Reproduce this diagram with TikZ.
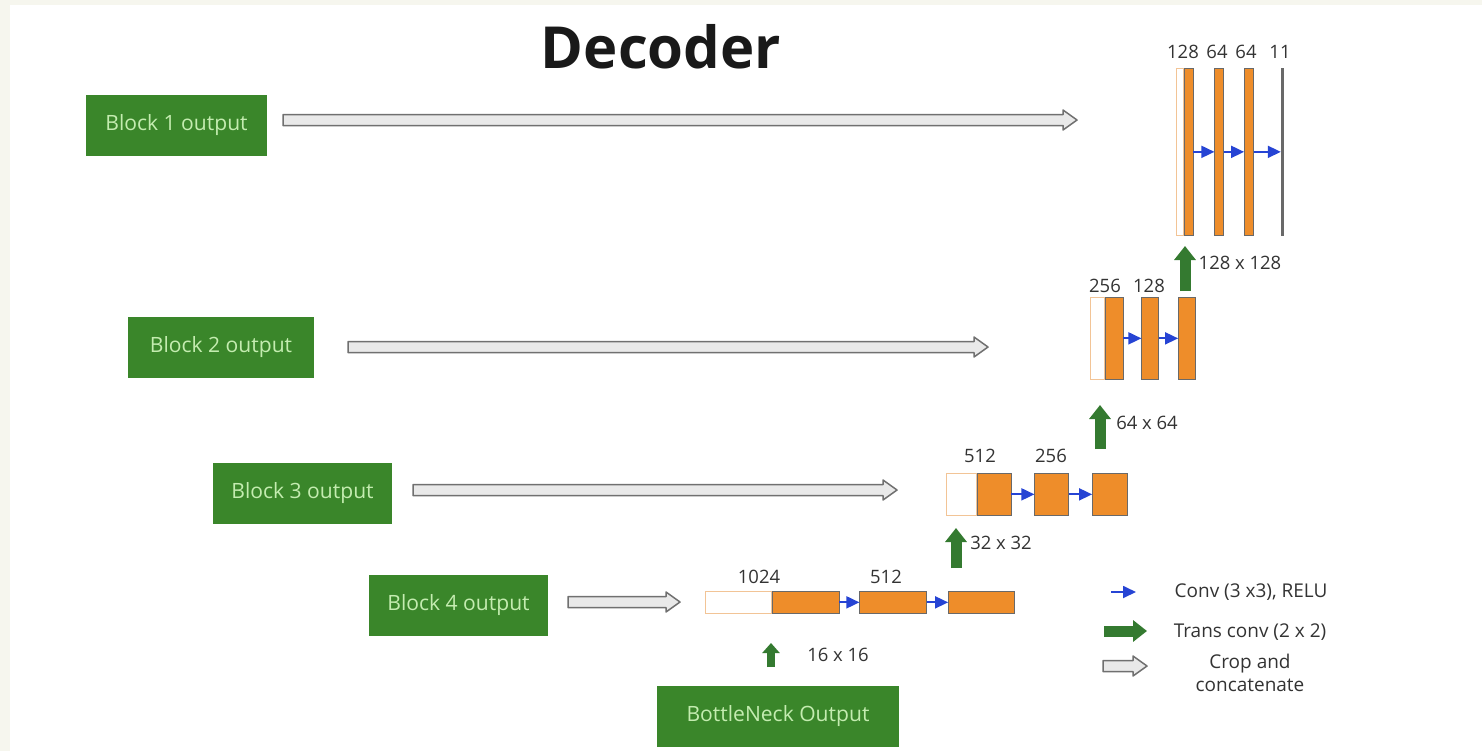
\documentclass[tikz,border=0pt]{standalone}
\usepackage{fontspec}
\setmainfont{Open Sans}
\usetikzlibrary{arrows.meta,calc,positioning}

\definecolor{boxgreen}{RGB}{58,134,42}
\definecolor{boxtext}{RGB}{196,236,176}
\definecolor{layerorange}{RGB}{238,141,42}
\definecolor{edgegray}{RGB}{105,105,105}
\definecolor{paleorange}{RGB}{242,196,150}
\definecolor{convblue}{RGB}{38,68,212}
\definecolor{transgreen}{RGB}{52,122,48}
\definecolor{cropfill}{RGB}{233,233,233}
\definecolor{cropedge}{RGB}{112,112,112}
\definecolor{cream}{RGB}{246,246,238}

\begin{document}
\begin{tikzpicture}[x=0.2mm, y=-0.2mm,
        % Shared styles
        block/.style={
            rectangle, fill=boxgreen, text=boxtext, inner sep=0pt,
            minimum height=12.2mm, font=\fontsize{12}{14}\selectfont
        },
        fmap/.style 2 args={
            rectangle, draw=edgegray, fill=layerorange, inner sep=0pt,
            minimum width=#1*0.2mm, minimum height=#2*0.2mm
        },
        skipmap/.style 2 args={
            rectangle, draw=paleorange, fill=white, inner sep=0pt,
            minimum width=#1*0.2mm, minimum height=#2*0.2mm
        },
        num/.style={inner sep=0pt, text=black!80, font=\fontsize{10.5}{12}\selectfont},
        legend/.style={inner sep=0pt, text=black!80, align=center, font=\fontsize{10.8}{13}\selectfont},
        convarr/.style={draw=convblue, line width=0.35mm, -{Triangle[length=2.6mm, width=2.4mm]}},
        transarr/.style={draw=transgreen, line width=2.2mm, -{Triangle[length=2.8mm, width=4.2mm]}},
        croparr/.style={
            draw=cropedge, fill=cropfill, line width=0.3mm, line join=round,
            to path={let \p1=(\tikztostart), \p2=(\tikztotarget) in
                (\x1,\y1+1.1mm) -- (\x2-2.8mm,\y1+1.1mm) -- (\x2-2.8mm,\y1+2mm) -- (\x2,\y1)
                -- (\x2-2.8mm,\y1-2mm) -- (\x2-2.8mm,\y1-1.1mm) -- (\x1,\y1-1.1mm) -- cycle}
        }
    ]
    % Background
    \useasboundingbox (0,0) rectangle (1482,751);
    \fill[cream] (0,0) rectangle (1482,751);
    \fill[white] (10,5) rectangle (1482,751);

    \node[font=\fontsize{33}{38}\selectfont\bfseries, text=black!90] (title) at (661,47) {Decoder};

    % Encoder outputs
    \node[block, minimum width=36.2mm] (b1) at (176.5,125.5) {Block 1 output};
    \node[block, minimum width=37.2mm] (b2) at (221,347.5) {Block 2 output};
    \node[block, minimum width=35.8mm] (b3) at (302.5,493) {Block 3 output};
    \node[block, minimum width=35.8mm] (b4) at (458.5,605.5) {Block 4 output};
    \node[block, minimum width=48.4mm] (bott) at (778,716) {BottleNeck Output};

    % Row 4 (16 x 16)
    \node[skipmap={66}{22}, anchor=north west] (w4) at (705,591) {};
    \node[fmap={67}{22}, right=0pt of w4] (o4a) {};
    \node[fmap={67}{22}, right=4mm of o4a] (o4b) {};
    \node[fmap={66}{22}, right=4.2mm of o4b] (o4c) {};
    \node[num] (l4a) at (759,577) {1024};
    \node[num] (l4b) at (886,577) {512};

    % Row 3 (32 x 32)
    \node[skipmap={30}{42}, anchor=north west] (w3) at (946,473) {};
    \node[fmap={34}{42}, right=0pt of w3] (o3a) {};
    \node[fmap={34}{42}, right=4.6mm of o3a] (o3b) {};
    \node[fmap={35}{42}, right=4.6mm of o3b] (o3c) {};
    \node[num] (l3a) at (980,456) {512};
    \node[num] (l3b) at (1051,456) {256};

    % Row 2 (64 x 64)
    \node[skipmap={14}{82}, anchor=north west] (w2) at (1090,297) {};
    \node[fmap={18}{82}, right=0pt of w2] (o2a) {};
    \node[fmap={17}{82}, right=3.6mm of o2a] (o2b) {};
    \node[fmap={17}{82}, right=3.8mm of o2b] (o2c) {};
    \node[num] (l2a) at (1105,286) {256};
    \node[num] (l2b) at (1149,286) {128};

    % Row 1 (128 x 128)
    \node[skipmap={7}{167}, anchor=north west] (w1) at (1176,68) {};
    \node[fmap={9}{167}, right=0pt of w1] (o1a) {};
    \node[fmap={9}{167}, right=4.2mm of o1a] (o1b) {};
    \node[fmap={9}{167}, right=4mm of o1b] (o1c) {};
    \node[fmap={2}{167}, fill=edgegray, right=5.4mm of o1c] (o1d) {};
    \node[num] (l1a) at (1183,52) {128};
    \node[num] (l1b) at (1217,52) {64};
    \node[num] (l1c) at (1246,52) {64};
    \node[num] (l1d) at (1280,52) {11};

    % Conv arrows
    \draw[convarr] (o4a) -- (o4b);
    \draw[convarr] (o4b) -- (o4c);
    \draw[convarr] (o3a) -- (o3b);
    \draw[convarr] (o3b) -- (o3c);
    \draw[convarr] (o2a) -- (o2b);
    \draw[convarr] (o2b) -- (o2c);
    \draw[convarr] (o1a) -- (o1b);
    \draw[convarr] (o1b) -- (o1c);
    \draw[convarr] (o1c) -- (o1d);

    % Crop and concatenate
    \coordinate (c1s) at (283,120);  \coordinate (c1e) at (1077,120);
    \coordinate (c2s) at (348,347);  \coordinate (c2e) at (988,347);
    \coordinate (c3s) at (413,490);  \coordinate (c3e) at (897,490);
    \coordinate (c4s) at (568,602);  \coordinate (c4e) at (680,602);
    \draw[croparr] (c1s) to (c1e);
    \draw[croparr] (c2s) to (c2e);
    \draw[croparr] (c3s) to (c3e);
    \draw[croparr] (c4s) to (c4e);

    % Trans conv arrows
    \coordinate (g16s) at (771,667);  \coordinate (g16e) at (771,643);
    \coordinate (g32s) at (956,568);  \coordinate (g32e) at (956,528);
    \coordinate (g64s) at (1100,449); \coordinate (g64e) at (1100,405);
    \coordinate (g128s) at (1185,291); \coordinate (g128e) at (1185,246);
    \draw[transarr, line width=1.6mm, -{Triangle[length=2mm, width=3.4mm]}] (g16s) -- (g16e);
    \draw[transarr] (g32s) -- (g32e);
    \draw[transarr] (g64s) -- (g64e);
    \draw[transarr] (g128s) -- (g128e);
    \node[num] (s16) at (838,655) {16 x 16};
    \node[num] (s32) at (1001,543) {32 x 32};
    \node[num] (s64) at (1147,423) {64 x 64};
    \node[num] (s128) at (1240,263) {128 x 128};

    % Legend
    \coordinate (k1s) at (1111,592);  \coordinate (k1e) at (1136,592);
    \coordinate (k2s) at (1104,631);  \coordinate (k2e) at (1147,631);
    \coordinate (k3s) at (1103,666);  \coordinate (k3e) at (1147,666);
    \draw[convarr] (k1s) -- (k1e);
    \draw[transarr] (k2s) -- (k2e);
    \draw[croparr] (k3s) to (k3e);
    \node[legend] (t1) at (1251,592) {Conv (3 x3), RELU};
    \node[legend] (t2) at (1250,632) {Trans conv (2 x 2)};
    \node[legend] (t3) at (1250,673) {Crop and\\concatenate};

\end{tikzpicture}
\end{document}
